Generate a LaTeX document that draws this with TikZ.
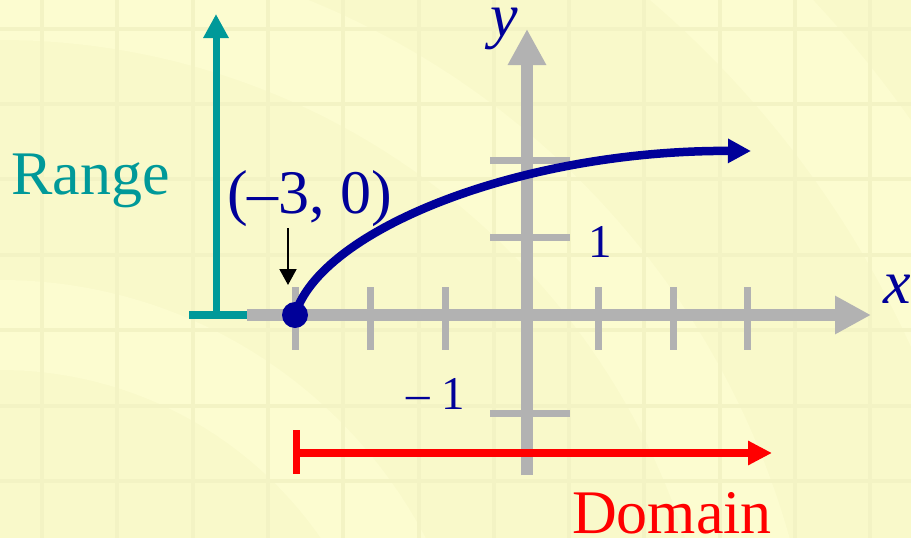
\documentclass[tikz,border=0pt]{standalone}
\usepackage{fontspec}
\setmainfont{Liberation Serif}
\usetikzlibrary{arrows.meta}
\definecolor{bgc}{RGB}{249,249,202}
\definecolor{bandc}{RGB}{252,252,208}
\definecolor{gridc}{RGB}{243,243,196}
\definecolor{axisgray}{RGB}{178,178,178}
\definecolor{tealc}{RGB}{0,153,153}
\definecolor{navy}{RGB}{0,0,153}
\definecolor{redc}{RGB}{255,0,0}
\tikzset{
  gridline/.style={gridc, line width=4pt},
  axisline/.style={axisgray, line width=11.5pt},
  tickline/.style={axisgray, line width=7pt},
  bigtext/.style={inner sep=0pt, font=\fontsize{62}{62}\selectfont},
  smalltext/.style={inner sep=0pt, font=\fontsize{47}{47}\selectfont, text=navy},
}
\begin{document}
\begin{tikzpicture}[x=1pt,y=-1pt]
\useasboundingbox (0,0) rectangle (911,538);
% background
\fill[bgc] (0,0) rectangle (911,538);
\begin{scope}
\clip (0,0) rectangle (911,538);
\fill[bandc, even odd rule] (0,760) circle[radius=480pt] (0,760) circle[radius=390pt];
\fill[bandc, even odd rule] (0,760) circle[radius=1113pt] (0,760) circle[radius=1000pt];
\fill[bandc, even odd rule] (0,760) circle[radius=820pt] (0,760) circle[radius=720pt];
\foreach \gx in {0,...,11} \draw[gridline] ({42+75.3*\gx},0) -- ({42+75.3*\gx},538);
\foreach \gy in {0,...,6} \draw[gridline] (0,{28.5+75.4*\gy}) -- (911,{28.5+75.4*\gy});
\end{scope}
% axes
\coordinate (xs) at (247,315);
\coordinate (xe) at (871,315);
\coordinate (ys) at (527,475);
\coordinate (ye) at (527,29);
\draw[axisline, -{Triangle[length=36pt,width=36pt]}] (xs) -- (xe);
\draw[axisline, -{Triangle[length=36pt,width=36pt]}] (ys) -- (ye);
\foreach \tx in {295,370,445,598,673,747} \draw[tickline] (\tx,287) -- (\tx,350);
\foreach \ty in {160,237,413} \draw[tickline] (490,\ty) -- (570,\ty);
% range
\coordinate (rb) at (216,315);
\coordinate (rt) at (216,14);
\coordinate (rl) at (189,315);
\coordinate (rr) at (247,315);
\draw[tealc, line width=7.5pt] (rl) -- (rr);
\draw[tealc, line width=7pt, -{Triangle[length=24pt,width=24pt]}] (rb) -- (rt);
% domain
\coordinate (dt) at (296,430);
\coordinate (db) at (296,474);
\coordinate (ds) at (296,453);
\coordinate (de) at (772,453);
\draw[redc, line width=7pt] (dt) -- (db);
\draw[redc, line width=8.5pt, -{Triangle[length=24pt,width=23pt]}] (ds) -- (de);
% curve
\node[circle, fill=navy, minimum size=26pt, inner sep=0pt] (P) at (295,315) {};
\coordinate (ce) at (751,151);
\draw[navy, line width=8.5pt, -{Triangle[length=23pt,width=23pt]}] (P.center) .. controls (320,230) and (520,150) .. (ce);
% labels
\node[bigtext, text=tealc, anchor=base west] (rangelbl) at (11,194) {Range};
\node[bigtext, text=navy, anchor=base west] (ptlbl) at (227,213) {(–3, 0)};
\coordinate (pa) at (288,228);
\coordinate (pb) at (288,285);
\draw[black, line width=2pt, -{Triangle[length=16pt,width=17pt]}] (pa) -- (pb);
\node[bigtext, text=redc, anchor=base west] (domlbl) at (572,533) {Domain};
\node[bigtext, text=navy, anchor=base west] (ylbl) at (490,36) {\itshape y};
\node[bigtext, text=navy, anchor=base west] (xlbl) at (883,303) {\itshape x};
\node[smalltext, anchor=base] (onelbl) at (600,257) {1};
\node[smalltext, anchor=base] (mlbl) at (436,409) {– 1};
\end{tikzpicture}
\end{document}
